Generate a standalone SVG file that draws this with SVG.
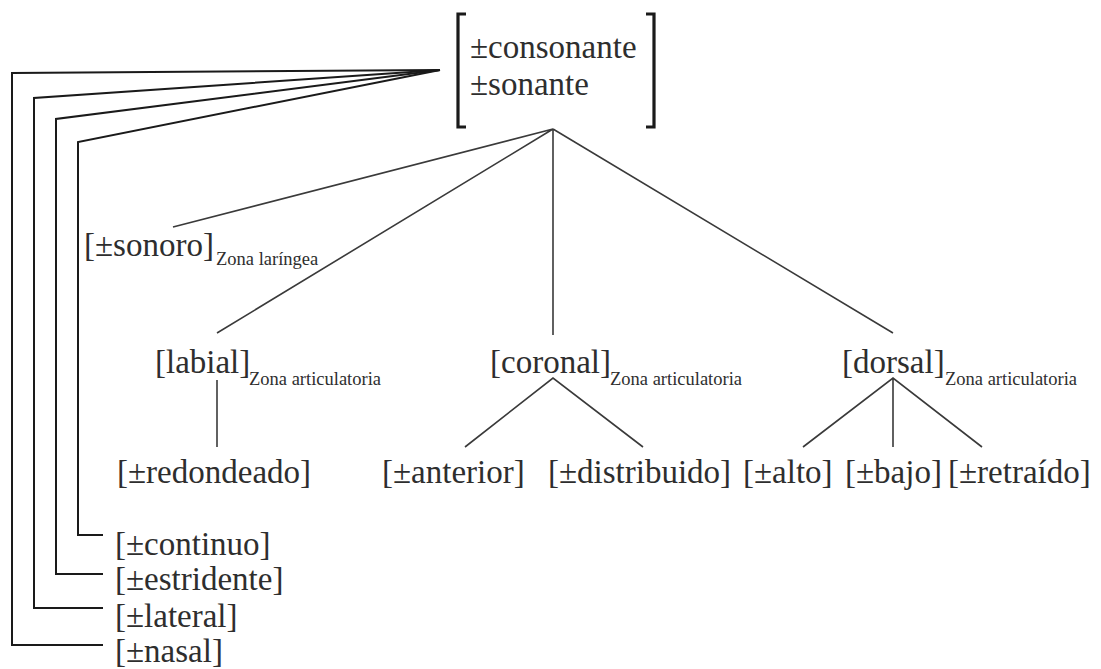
<svg xmlns="http://www.w3.org/2000/svg" width="1101" height="669" viewBox="0 0 1101 669">
<style>
.t{font-family:"Liberation Serif","DejaVu Serif",serif;font-size:33px;fill:#2e2e2e}
.s{font-family:"Liberation Serif","DejaVu Serif",serif;font-size:18.5px;fill:#2e2e2e}
.ln{fill:none;stroke:#3a3a3a;stroke-width:1.6}
.rail{fill:none;stroke:#1a1a1a;stroke-width:2}
.br{fill:none;stroke:#1a1a1a;stroke-width:3.2}
</style>
<rect width="1101" height="669" fill="#fff"/>
<g id="connectors">
<path class="rail" d="M440,70 L12,73 L12,645 L103,645"/>
<path class="rail" d="M440,70 L34,98 L34,608 L103,608"/>
<path class="rail" d="M440,70 L56,119 L56,574 L103,574"/>
<path class="rail" d="M440,70 L78,142 L78,535 L103,535"/>
<path class="ln" d="M553,129 L173,227 M553,129 L217,333 M553,129 L553,335 M553,129 L893,333"/>
<path class="ln" d="M217,380 L217,447"/>
<path class="ln" d="M465,447 L553,378 L643,447"/>
<path class="ln" d="M803,447 L893,378 L982,447 M893,378 L893,447"/>
</g>
<g id="root">
<path class="br" d="M466,14 L458,14 L458,127 L466,127"/>
<path class="br" d="M646,14 L654,14 L654,127 L646,127"/>
<text class="t" x="470" y="58">±consonante</text>
<text class="t" x="470" y="95">±sonante</text>
</g>
<g id="sonoro"><text class="t" x="84" y="256">[±sonoro]</text><text class="s" x="216" y="265">Zona laríngea</text></g>
<g id="labial"><text class="t" x="155" y="373">[labial]</text><text class="s" x="249" y="385">Zona articulatoria</text></g>
<g id="coronal"><text class="t" x="490" y="373">[coronal]</text><text class="s" x="610" y="385">Zona articulatoria</text></g>
<g id="dorsal"><text class="t" x="842" y="373">[dorsal]</text><text class="s" x="945" y="385">Zona articulatoria</text></g>
<g id="redondeado"><text class="t" x="117" y="483">[±redondeado]</text></g>
<g id="anterior"><text class="t" x="382" y="483">[±anterior]</text></g>
<g id="distribuido"><text class="t" x="548" y="483">[±distribuido]</text></g>
<g id="alto"><text class="t" x="743" y="483">[±alto]</text></g>
<g id="bajo"><text class="t" x="845" y="483">[±bajo]</text></g>
<g id="retraido"><text class="t" x="948" y="483">[±retraído]</text></g>
<g id="continuo"><text class="t" x="115" y="555">[±continuo]</text></g>
<g id="estridente"><text class="t" x="115" y="590">[±estridente]</text></g>
<g id="lateral"><text class="t" x="115" y="627">[±lateral]</text></g>
<g id="nasal"><text class="t" x="115" y="662">[±nasal]</text></g>
</svg>
